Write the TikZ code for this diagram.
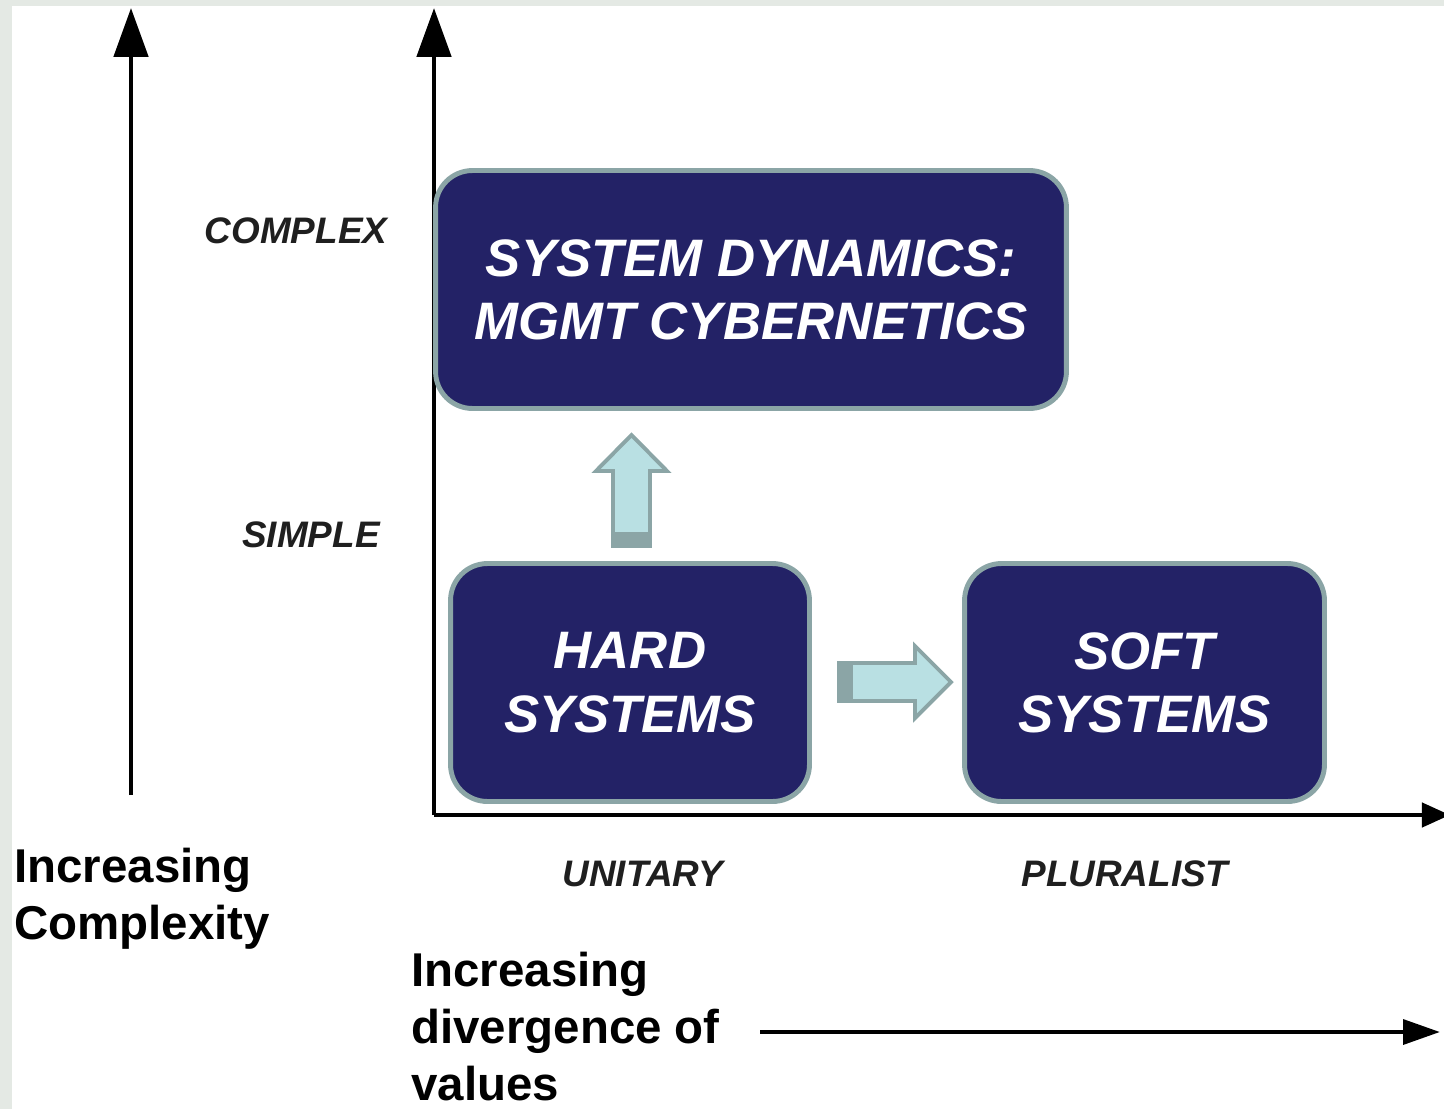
\documentclass[tikz,border=0pt]{standalone}
\usepackage{fontspec}
\setmainfont{Liberation Sans}
\usetikzlibrary{arrows.meta}
\definecolor{navy}{RGB}{35,34,102}
\definecolor{rim}{RGB}{139,165,166}
\definecolor{pale}{RGB}{185,224,227}
\definecolor{backdrop}{RGB}{228,233,228}
\begin{document}
\begin{tikzpicture}[x=0.02cm,y=-0.02cm,
  box/.style={draw=rim, line width=2.8pt, fill=navy, rounded corners=21pt,
    text=white, font=\fontsize{30}{36}\selectfont\bfseries\itshape,
    align=center, inner sep=0pt, minimum height=4.76cm},
  level/.style={font=\fontsize{21}{25}\selectfont\bfseries\itshape, text=black!88, inner sep=0pt},
  caption/.style={font=\fontsize{27}{32.5}\selectfont\bfseries, align=left,
    anchor=north west, inner sep=0pt},
  axis/.style={line width=2.8pt, -{Triangle[length=27.8pt,width=19.3pt]}},
  flat/.style={line width=2.6pt, -{Triangle[length=21pt,width=14pt]}},
  blockarrow/.style={fill=pale, draw=rim, line width=2.2pt, line join=miter}]

\useasboundingbox (0,0) rectangle (1444,1109);
% page backdrop and white sheet
\fill[backdrop] (0,0) rectangle (1444,1109);
\fill[white] (12,6) rectangle (1444,1109);

% axes
\coordinate (origin) at (434,815);
\coordinate (ytop) at (434,8);
\coordinate (xend) at (1450,815);
\draw[axis] (origin) -- (ytop);
\draw[line width=2.8pt, -{Triangle[length=16pt,width=13.6pt]}] (origin) -- (xend);

% complexity arrow
\coordinate (cbot) at (131,795);
\coordinate (ctop) at (131,8);
\draw[axis] (cbot) -- (ctop);

% divergence arrow
\coordinate (dstart) at (760,1032);
\coordinate (dend) at (1440,1032);
\draw[flat] (dstart) -- (dend);

% level labels
\node[level] (complex) at (296,231) {COMPLEX};
\node[level] (simple) at (311,535) {SIMPLE};
\node[level] (unitary) at (643,874) {UNITARY};
\node[level] (pluralist) at (1125,874) {PLURALIST};

% captions
\node[caption] (inccomp) at (14,848) {Increasing\\Complexity};
\node[caption] (incdiv) at (411,952) {Increasing\\divergence of\\values};

% method boxes
\node[box, minimum width=12.62cm] (sd) at (751,289.5) {SYSTEM DYNAMICS:\\MGMT CYBERNETICS};
\node[box, minimum width=7.18cm] (hard) at (630,682.5) {HARD\\SYSTEMS};
\node[box, minimum width=7.2cm] (soft) at (1144.5,682.5) {SOFT\\SYSTEMS};

% block arrow from hard systems up to system dynamics
\draw[blockarrow] (613,546) -- (613,471) -- (596,471) -- (631.5,435) -- (667,471)
  -- (650,471) -- (650,546) -- cycle;
\fill[rim] (612,532) rectangle (651,547);

% block arrow from hard systems across to soft systems
\draw[blockarrow] (839,663) -- (915,663) -- (915,646) -- (951,682) -- (915,718)
  -- (915,701) -- (839,701) -- cycle;
\fill[rim] (838,662) rectangle (853,702);
\end{tikzpicture}
\end{document}
